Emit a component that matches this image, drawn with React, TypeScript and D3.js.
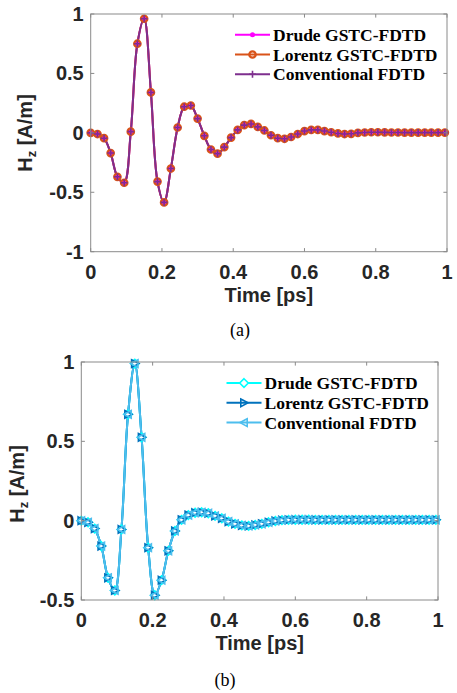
import React from "react";
import * as d3 from "d3";

// sample times of the plotted markers [ps]
const times = [
  0, 0.019, 0.0375, 0.056, 0.075, 0.094, 0.1125, 0.131, 0.15, 0.169,
  0.1875, 0.206, 0.225, 0.244, 0.2625, 0.281, 0.3, 0.319, 0.3375, 0.356,
  0.375, 0.394, 0.4125, 0.431, 0.45, 0.469, 0.4875, 0.506, 0.525, 0.544,
  0.5625, 0.581, 0.6, 0.619, 0.6375, 0.656, 0.675, 0.694, 0.7125, 0.731,
  0.75, 0.769, 0.7875, 0.806, 0.825, 0.844, 0.8625, 0.881, 0.9, 0.919,
  0.9375, 0.956, 0.975, 0.994,
];

// (a) all three methods overlap
const hzA = [
  0, -0.01, -0.045, -0.17, -0.37, -0.42, 0.01, 0.75, 0.96, 0.34,
  -0.41, -0.585, -0.3, 0.045, 0.22, 0.23, 0.12, -0.025, -0.14, -0.175,
  -0.12, -0.04, 0.025, 0.065, 0.075, 0.05, 0.02, -0.02, -0.045, -0.05,
  -0.035, -0.01, 0.015, 0.025, 0.025, 0.015, 0.005, -0.005, -0.01, -0.008,
  0, 0.003, 0.005, 0.005, 0.004, 0.003, 0.003, 0.002, 0.002, 0.002,
  0.002, 0.002, 0.002, 0.002,
];

// (b)
const hzB = [
  0, -0.01, -0.05, -0.16, -0.36, -0.44, -0.055, 0.67, 0.99, 0.525,
  -0.17, -0.47, -0.375, -0.19, -0.065, 0.005, 0.035, 0.05, 0.053, 0.047,
  0.03, 0.015, -0.006, -0.02, -0.03, -0.033, -0.027, -0.02, -0.01, -0.002,
  0.003, 0.005, 0.006, 0.006, 0.006, 0.005, 0.005, 0.005, 0.005, 0.005,
  0.005, 0.005, 0.005, 0.005, 0.005, 0.005, 0.005, 0.005, 0.005, 0.005,
  0.005, 0.005, 0.005, 0.005,
];

const seriesNames = ["Drude GSTC-FDTD", "Lorentz GSTC-FDTD", "Conventional FDTD"];
const xTicks = [0, 0.2, 0.4, 0.6, 0.8, 1];
const yTicksA = [-1, -0.5, 0, 0.5, 1];
const yTicksB = [-0.5, 0, 0.5, 1];

const AX = "#8a8a8a";
const TXT = "#262626";
const SANS = "'Liberation Sans', Arial, sans-serif";
const SERIF = "'Liberation Serif', 'Times New Roman', serif";

type Mk = "dot" | "circle" | "plus" | "diamond" | "tri-right" | "tri-left";

function Marker({ kind, x, y, color }: { kind: Mk; x: number; y: number; color: string }) {
  switch (kind) {
    case "dot":
      return <circle cx={x} cy={y} r={2.5} fill={color} />;
    case "circle":
      return <circle cx={x} cy={y} r={3.2} fill="none" stroke={color} strokeWidth={2.3} />;
    case "plus":
      return (
        <path d={`M${x - 3.5},${y}H${x + 3.5}M${x},${y - 3.5}V${y + 3.5}`} stroke={color} strokeWidth={1.6} />
      );
    case "diamond":
      return (
        <path d={`M${x},${y - 4.3}L${x + 4.3},${y}L${x},${y + 4.3}L${x - 4.3},${y}Z`} fill="#fff" stroke={color} strokeWidth={1.6} />
      );
    case "tri-right":
      return (
        <path d={`M${x - 3.2},${y - 3.8}L${x + 4},${y}L${x - 3.2},${y + 3.8}Z`} fill="none" stroke={color} strokeWidth={1.6} />
      );
    default:
      return (
        <path d={`M${x + 3.2},${y - 3.8}L${x - 4},${y}L${x + 3.2},${y + 3.8}Z`} fill="none" stroke={color} strokeWidth={1.6} />
      );
  }
}

interface Series {
  name: string;
  values: number[];
  color: string;
  marker: Mk;
}

interface PanelProps {
  id: string;
  left: number;
  right: number;
  top: number;
  bottom: number;
  yDomain: [number, number];
  yTicks: number[];
  series: Series[];
  legendX: number;
  legendY: number;
  yLabelX: number;
  yLabelY: number;
  xTickBase: number;
  xTitleBase: number;
  caption: string;
  captionX: number;
  captionBase: number;
}

function Panel(p: PanelProps) {
  const x = d3.scaleLinear().domain([0, 1]).range([p.left, p.right]);
  const y = d3.scaleLinear().domain(p.yDomain).range([p.bottom, p.top]);
  const line = d3
    .line<number>()
    .x((_, i) => x(times[i]))
    .y((d) => y(d))
    .curve(d3.curveCatmullRom.alpha(0.5));
  const tl = 3.6;
  const fmt = (v: number) => String(v);
  return (
    <g>
      <defs>
        <clipPath id={`clip-${p.id}`}>
          <rect x={p.left} y={p.top} width={p.right - p.left} height={p.bottom - p.top} />
        </clipPath>
      </defs>
      <rect x={p.left} y={p.top} width={p.right - p.left} height={p.bottom - p.top} fill="#fff" />
      <g clipPath={`url(#clip-${p.id})`}>
        {p.series.map((s) => (
          <path key={s.name} d={line(s.values) || ""} fill="none" stroke={s.color} strokeWidth={2} />
        ))}
      </g>
      {p.series.map((s) => (
        <g key={s.name + "-m"}>
          {s.values.map((v, i) => (
            <Marker key={i} kind={s.marker} x={x(times[i])} y={y(v)} color={s.color} />
          ))}
        </g>
      ))}
      {/* box and ticks */}
      <rect x={p.left} y={p.top} width={p.right - p.left} height={p.bottom - p.top} fill="none" stroke={AX} strokeWidth={1} />
      {xTicks.map((t) => (
        <g key={"xt" + t}>
          <line x1={x(t)} x2={x(t)} y1={p.bottom} y2={p.bottom - tl} stroke={AX} />
          <line x1={x(t)} x2={x(t)} y1={p.top} y2={p.top + tl} stroke={AX} />
          <text x={x(t)} y={p.xTickBase} textAnchor="middle" fontFamily={SANS} fontWeight="bold" fontSize={20} fill={TXT}>
            {fmt(t)}
          </text>
        </g>
      ))}
      {p.yTicks.map((t) => (
        <g key={"yt" + t}>
          <line x1={p.left} x2={p.left + tl} y1={y(t)} y2={y(t)} stroke={AX} />
          <line x1={p.right} x2={p.right - tl} y1={y(t)} y2={y(t)} stroke={AX} />
          <text x={p.left - 7} y={y(t) + 7} textAnchor="end" fontFamily={SANS} fontWeight="bold" fontSize={20} fill={TXT}>
            {fmt(t)}
          </text>
        </g>
      ))}
      <text x={(p.left + p.right) / 2} y={p.xTitleBase} textAnchor="middle" fontFamily={SANS} fontWeight="bold" fontSize={20} fill={TXT}>
        Time [ps]
      </text>
      <text
        transform={`translate(${p.yLabelX},${p.yLabelY}) rotate(-90)`}
        textAnchor="middle"
        fontFamily={SANS}
        fontWeight="bold"
        fontSize={20}
        fill={TXT}
      >
        H<tspan dy={4} fontSize={13}>z</tspan>
        <tspan dy={-4}> [A/m]</tspan>
      </text>
      {/* legend */}
      {p.series.map((s, i) => {
        const ly = p.legendY + i * 19.8;
        return (
          <g key={"lg" + s.name}>
            <line x1={p.legendX} x2={p.legendX + 35} y1={ly - 6} y2={ly - 6} stroke={s.color} strokeWidth={2} />
            <Marker kind={s.marker} x={p.legendX + 17.5} y={ly - 6} color={s.color} />
            <text x={p.legendX + 38} y={ly} fontFamily={SERIF} fontWeight="bold" fontSize={17.5} fill="#000">
              {s.name}
            </text>
          </g>
        );
      })}
      <text x={p.captionX} y={p.captionBase} textAnchor="middle" fontFamily={SERIF} fontSize={18} fill="#000">
        {p.caption}
      </text>
    </g>
  );
}

export default function App() {
  const seriesA: Series[] = [
    { name: seriesNames[0], values: hzA, color: "#ff00ff", marker: "dot" },
    { name: seriesNames[1], values: hzA, color: "#d95319", marker: "circle" },
    { name: seriesNames[2], values: hzA, color: "#7e2f8e", marker: "plus" },
  ];
  const seriesB: Series[] = [
    { name: seriesNames[0], values: hzB, color: "#00ffff", marker: "diamond" },
    { name: seriesNames[1], values: hzB, color: "#0072bd", marker: "tri-right" },
    { name: seriesNames[2], values: hzB, color: "#4dbeee", marker: "tri-left" },
  ];
  return (
    <svg
      width={457}
      height={693}
      style={{ position: "absolute", left: 0, top: 0, background: "#fff" }}
    >
      <Panel
        id="a"
        left={90.7}
        right={447}
        top={14}
        bottom={251.7}
        yDomain={[-1, 1]}
        yTicks={yTicksA}
        series={seriesA}
        legendX={235}
        legendY={40.7}
        yLabelX={32}
        yLabelY={133}
        xTickBase={279}
        xTitleBase={302}
        caption="(a)"
        captionX={240}
        captionBase={336}
      />
      <Panel
        id="b"
        left={81.3}
        right={438}
        top={362}
        bottom={600}
        yDomain={[-0.5, 1]}
        yTicks={yTicksB}
        series={seriesB}
        legendX={226.5}
        legendY={389}
        yLabelX={24}
        yLabelY={484}
        xTickBase={627}
        xTitleBase={650}
        caption="(b)"
        captionX={225}
        captionBase={686}
      />
    </svg>
  );
}
